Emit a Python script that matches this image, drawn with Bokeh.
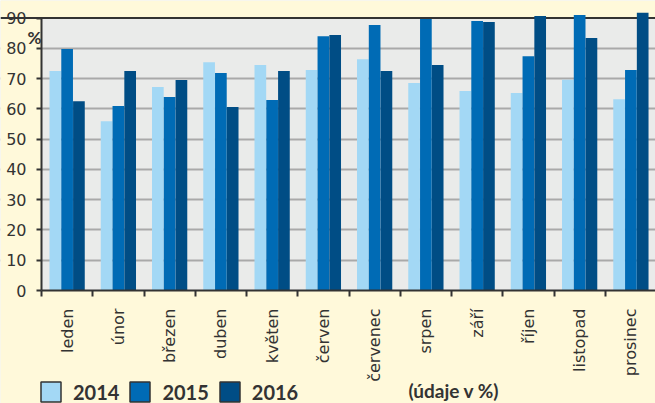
import math
from bokeh.plotting import figure
from bokeh.models import (ColumnDataSource, Range1d, FixedTicker, Span, BoxAnnotation,
                          Legend, LegendItem, Label)
from bokeh.transform import dodge
from bokeh.embed import file_html
from bokeh.resources import INLINE

# ---- data ----
months = ["leden", "únor", "březen", "duben", "květen", "červen",
          "červenec", "srpen", "září", "říjen", "listopad", "prosinec"]
years = ["2014", "2015", "2016"]
v2014 = [72.5, 55.9, 67.2, 75.4, 74.5, 72.8, 76.4, 68.5, 65.9, 65.2, 69.6, 63.2]
v2015 = [79.8, 60.9, 63.9, 71.8, 62.9, 84.0, 87.7, 89.7, 89.0, 77.4, 91.0, 72.8]
v2016 = [62.5, 72.5, 69.5, 60.6, 72.5, 84.4, 72.5, 74.5, 88.7, 90.7, 83.4, 91.7]
y_ticks = [0, 10, 20, 30, 40, 50, 60, 70, 80, 90]
unit_note = "(údaje v %)"
y_unit = "%"

# ---- style ----
colors = ["#A3D8F5", "#006BB5", "#004D85"]
BG = "#FFF9DA"
PLOT_BG = "#EAEBEA"
TXT = "#333333"
GRID = "#A9A9A9"
AX_FONT = "DejaVu Sans"
BOLD_FONT = "Lato"

n = len(months)
idx = list(range(n))
src = ColumnDataSource(dict(x=idx, y2014=v2014, y2015=v2015, y2016=v2016))

x_lo, x_hi = -0.5, n - 0.5
y_lo, y_hi = y_ticks[0], y_ticks[-1]

# the frame fills the whole canvas; axes are drawn at fixed locations inside it
p = figure(width=655, height=403, output_backend="svg", toolbar_location=None,
           x_range=Range1d(-1.3, 11.48), y_range=Range1d(-37.32, 95.78),
           min_border=0,
           background_fill_color=PLOT_BG, border_fill_color=BG, outline_line_color=None)

# yellow page areas over the frame (above 90, left of the axis, below 0)
p.add_layout(BoxAnnotation(bottom=y_hi, fill_color=BG, fill_alpha=1,
                           line_color=None, level="underlay"))
p.add_layout(BoxAnnotation(right=x_lo, fill_color=BG, fill_alpha=1,
                           line_color=None, level="underlay"))
p.add_layout(BoxAnnotation(top=y_lo, fill_color=BG, fill_alpha=1,
                           line_color=None, level="underlay"))
p.add_layout(Span(location=y_hi, dimension="width", line_color=TXT,
                  line_width=2, level="underlay"))

bw = 0.228
offsets = [-0.23, 0.0, 0.23]
cols = ["y2014", "y2015", "y2016"]
items = []
for year, col, off, c in zip(years, cols, offsets, colors):
    p.vbar(x=dodge("x", off, range=p.x_range), top=col, width=bw, source=src,
           fill_color=c, line_color=None)
    lr = p.vbar(x=dodge("x", off, range=p.x_range), top=col, width=bw, source=src,
                fill_color=c, line_color=TXT, line_width=1.5, visible=False)
    items.append(LegendItem(label=year, renderers=[lr]))

legend = Legend(items=items, orientation="horizontal", location=(38, -1),
                padding=0, margin=0, spacing=8, label_standoff=10,
                glyph_width=25, glyph_height=25, label_height=25,
                label_text_font=BOLD_FONT, label_text_font_size="20px",
                label_text_font_style="bold", label_text_color=TXT,
                background_fill_alpha=0, border_line_color=None)
p.add_layout(legend, "center")

# x axis
xa = p.xaxis[0]
xa.fixed_location = y_lo
xa.bounds = (x_lo, x_hi)
xa.ticker = FixedTicker(ticks=idx, minor_ticks=[i - 0.5 for i in range(n + 1)])
xa.major_label_overrides = {i: m for i, m in enumerate(months)}
xa.major_label_orientation = math.pi / 2
xa.major_tick_line_color = None
xa.major_tick_out = 0
xa.major_tick_in = 0
xa.minor_tick_out = 6
xa.minor_tick_in = 0
xa.minor_tick_line_color = TXT
xa.minor_tick_line_width = 2
xa.axis_line_color = TXT
xa.axis_line_width = 2
xa.major_label_standoff = 12
xa.major_label_text_font = AX_FONT
xa.major_label_text_font_size = "16px"
xa.major_label_text_color = TXT

# y axis
ya = p.yaxis[0]
ya.fixed_location = x_lo
ya.bounds = (y_lo, y_hi)
ya.ticker = FixedTicker(ticks=y_ticks)
ya.major_tick_out = 5
ya.major_tick_in = 0
ya.major_tick_line_width = 2
ya.major_tick_line_color = TXT
ya.minor_tick_line_color = None
ya.axis_line_color = TXT
ya.axis_line_width = 2
ya.major_label_standoff = 10
ya.major_label_text_font = AX_FONT
ya.major_label_text_font_size = "16px"
ya.major_label_text_color = TXT

p.xgrid.visible = False
p.ygrid.ticker = FixedTicker(ticks=y_ticks[1:-1])
p.ygrid.grid_line_color = GRID
p.ygrid.grid_line_width = 2

p.add_layout(Label(x=-0.773, y=83.56, text=y_unit, text_font=BOLD_FONT,
                   text_font_size="17px", text_font_style="bold",
                   text_color=TXT, text_baseline="middle"))
p.add_layout(Label(x=6.661, y=-33.1, text=unit_note, text_font=BOLD_FONT,
                   text_font_size="19px", text_font_style="bold",
                   text_color=TXT, text_baseline="middle"))

html = file_html(p, INLINE, title="chart")
html = html.replace("<body>", '<body style="background-color:%s">' % BG, 1)
open("out.html", "w").write(html)
